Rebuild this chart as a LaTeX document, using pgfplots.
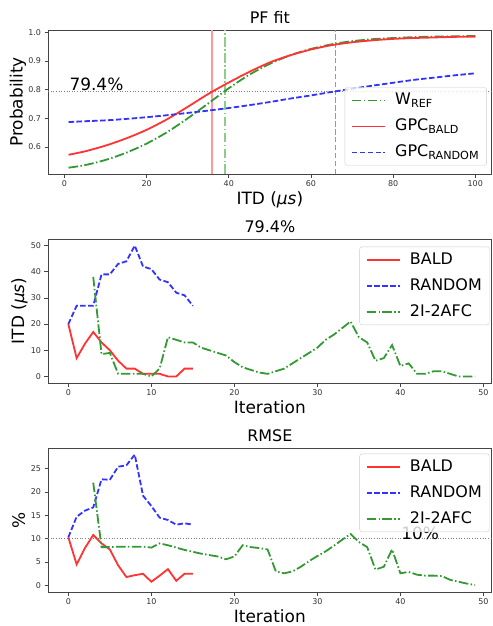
\documentclass[border=0pt]{standalone}
\usepackage{pgfplots}
\pgfplotsset{compat=1.18}
\usepackage{fontspec}
\setmainfont{DejaVu Sans}

\definecolor{cR}{rgb}{1,0.2,0.2}
\definecolor{cB}{rgb}{0.2,0.2,1}
\definecolor{cG}{rgb}{0.2,0.6,0.2}
\definecolor{vR}{rgb}{1,0.6,0.6}
\definecolor{vB}{rgb}{0.55,0.55,1}
\definecolor{vG}{rgb}{0.55,0.8,0.55}
\definecolor{spine}{gray}{0.27}
\newcommand{\fs}[1]{\fontsize{#1}{#1}\selectfont}

\pgfplotsset{
  every axis title shift=0pt,
  mpl/.style={
    scale only axis, width=443.7bp, height=144bp,
    axis line style={spine, line width=0.8bp},
    tick align=outside, tick pos=left,
    major tick length=3.5bp,
    every tick/.style={spine, line width=0.8bp},
    tick label style={font=\fs{8}, text=black!80},
    /pgf/number format/assume math mode=true,
    title style={font=\fs{16}, anchor=base, at={(axis description cs:0.5,1.042)}, inner sep=0pt},
    xlabel style={font=\fs{17}, anchor=base, at={(axis description cs:0.5,-0.215)}, inner sep=0pt},
    ylabel style={font=\fs{17}, anchor=base, inner sep=0pt},
    legend cell align=left,
    legend style={draw=black!20, rounded corners=2.5pt, fill=white, fill opacity=0.8,
      text opacity=1, draw opacity=1, font=\fs{16}, inner xsep=6bp, inner ysep=4bp,
      row sep=8bp, column sep=8bp,
      nodes={inner sep=1.5bp, text height=12bp, text depth=3bp}},
    legend image code/.code={\draw[#1, line width=1.8bp] (0bp,0bp) -- (33bp,0bp);},
  },
  lw/.initial=1.8bp,
  ln/.style={line width=\pgfkeysvalueof{/pgfplots/lw}},
  dsh/.style={line width=\pgfkeysvalueof{/pgfplots/lw}, dash pattern=on 5.5bp off 2.4bp},
  dshdot/.style={line width=\pgfkeysvalueof{/pgfplots/lw}, dash pattern=on 9.6bp off 2.4bp on 1.5bp off 2.4bp},
  dotln/.style={gray, line width=1bp, dash pattern=on 1bp off 1.65bp},
}

\begin{document}
\begin{tikzpicture}
\useasboundingbox (0,0) rectangle (493bp,-626bp);

% ---------- PF fit ----------
\begin{axis}[mpl, at={(48bp,-174bp)}, anchor=south west,
  title={PF fit},
  xlabel={ITD (\textit{μs})}, ylabel={Probability},
  ylabel style={at={(axis description cs:-0.057,0.5)}},
  xmin=-4, xmax=104, ymin=0.506, ymax=1.008,
  xtick={0,20,40,60,80,100}, ytick={0.6,0.7,0.8,0.9,1.0},
  yticklabels={0.6,0.7,0.8,0.9,1.0},
  legend style={at={(0.989,0.058)}, anchor=south east},
]
\addplot[vR, ln, forget plot] coordinates {(36,0.506) (36,1.008)};
\addplot[vG, dshdot, forget plot] coordinates {(39,0.506) (39,1.008)};
\addplot[vB, dsh, forget plot] coordinates {(66,0.506) (66,1.008)};
\addplot[dotln, forget plot] coordinates {(-4,0.794) (104,0.794)};
\node[anchor=base west, inner sep=0pt, font=\fs{17}] at (axis cs:1.2,0.797) {79.4\%};
\addplot[cG, dshdot, smooth] coordinates {
 (1,0.528) (5,0.537) (10,0.555) (15,0.580) (20,0.612) (25,0.652) (30,0.700)
 (35,0.752) (40,0.805) (45,0.852) (50,0.890) (55,0.920) (60,0.942) (65,0.958)
 (70,0.969) (75,0.976) (80,0.980) (85,0.983) (90,0.985) (95,0.986) (100,0.987)};
\addlegendentry{W\textsubscript{REF}}
\addplot[cR, ln, smooth] coordinates {
 (1,0.573) (5,0.585) (10,0.605) (15,0.630) (20,0.660) (25,0.697) (30,0.740)
 (35,0.785) (40,0.825) (45,0.862) (50,0.895) (55,0.920) (60,0.940) (65,0.955)
 (70,0.965) (75,0.972) (80,0.977) (85,0.980) (90,0.982) (95,0.984) (100,0.985)};
\addlegendentry{GPC\textsubscript{BALD}}
\addplot[cB, dsh, smooth] coordinates {
 (1,0.687) (5,0.690) (10,0.693) (15,0.698) (20,0.704) (25,0.711) (30,0.719)
 (35,0.727) (40,0.736) (45,0.746) (50,0.757) (55,0.769) (60,0.780) (65,0.792)
 (70,0.803) (75,0.814) (80,0.824) (85,0.834) (90,0.842) (95,0.850) (100,0.857)};
\addlegendentry{GPC\textsubscript{RANDOM}}
\end{axis}

% ---------- ITD per iteration ----------
\begin{axis}[mpl, at={(48bp,-383bp)}, anchor=south west,
  title={79.4\%},
  xlabel={Iteration}, ylabel={ITD (\textit{μs})},
  ylabel style={at={(axis description cs:-0.054,0.5)}},
  xmin=-2.45, xmax=51, ymin=-2.5, ymax=52.5,
  xtick={0,10,20,30,40,50}, ytick={0,10,20,30,40,50},
  legend style={at={(0.995,0.947)}, anchor=north east},
]
\addplot[cR, ln] coordinates {
 (0,20) (1,7) (2,12.5) (3,17) (4,13) (5,10) (6,6) (7,3) (8,3) (9,1) (10,1)
 (11,1) (12,0) (13,0) (14,3) (15,3)};
\addlegendentry{BALD}
\addplot[cB, dsh] coordinates {
 (0,20) (1,27) (2,27) (3,27) (4,39) (5,39) (6,43) (7,44) (8,50) (9,42) (10,41)
 (11,37) (12,36) (13,32) (14,31) (15,27)};
\addlegendentry{RANDOM}
\addplot[cG, dshdot] coordinates {
 (3,38) (4,8.5) (5,9) (6,1) (7,1) (8,1) (9,1) (10,0) (11,3) (12,15) (13,14)
 (14,13) (15,13) (16,11) (17,10) (18,9) (19,8) (20,5.5) (21,3.5) (22,2.5)
 (23,1.5) (24,1) (25,2) (26,3) (27,5) (28,7) (29,9) (30,11) (31,14) (32,16)
 (33,18.5) (34,21) (35,15) (36,13) (37,6) (38,7) (39,12) (40,4) (41,5) (42,1)
 (43,1) (44,2) (45,2) (46,1) (47,0) (48,0) (49,0)};
\addlegendentry{2I-2AFC}
\end{axis}

% ---------- RMSE ----------
\begin{axis}[mpl, at={(48bp,-592bp)}, anchor=south west,
  title={RMSE},
  xlabel={Iteration}, ylabel={\%},
  ylabel style={at={(axis description cs:-0.052,0.5)}},
  xmin=-2.45, xmax=51, ymin=-1.4, ymax=29.4,
  xtick={0,10,20,30,40,50}, ytick={0,5,10,15,20,25},
  legend style={at={(0.995,0.961)}, anchor=north east},
]
\addplot[dotln, forget plot] coordinates {(-2.45,10) (51,10)};
\node[anchor=base west, inner sep=0pt, font=\fs{17}] at (axis cs:40.1,9.9) {10\%};
\addplot[cR, ln] coordinates {
 (0,10.3) (1,4.5) (2,8) (3,10.8) (4,9) (5,7.7) (6,4.3) (7,1.8) (8,2.2) (9,2.5)
 (10,0.8) (11,2.1) (12,3.5) (13,1) (14,2.5) (15,2.5)};
\addlegendentry{BALD}
\addplot[cB, dsh] coordinates {
 (0,10.3) (1,14.7) (2,16) (3,16.7) (4,22.7) (5,22.6) (6,25.4) (7,25.7) (8,28)
 (9,19.2) (10,17) (11,14.5) (12,14) (13,13) (14,13.3) (15,13)};
\addlegendentry{RANDOM}
\addplot[cG, dshdot] coordinates {
 (3,22) (4,8.2) (5,8.2) (6,8.3) (7,8.3) (8,8.3) (9,8.3) (10,8.1) (11,9) (12,8.6)
 (13,8.1) (14,7.6) (15,7.2) (16,6.8) (17,6.5) (18,6.2) (19,5.6) (20,6.2) (21,8.6)
 (22,8.2) (23,8) (24,7.7) (25,3) (26,2.6) (27,3) (28,4) (29,5.2) (30,6.3) (31,7.3)
 (32,8.5) (33,9.8) (34,11) (35,9.3) (36,8.2) (37,3.4) (38,4) (39,7.7) (40,2.6)
 (41,2.9) (42,2.3) (43,2.1) (44,2.1) (45,2) (46,1.2) (47,0.8) (48,0.4) (49,0.1)};
\addlegendentry{2I-2AFC}
\end{axis}
\end{tikzpicture}
\end{document}
